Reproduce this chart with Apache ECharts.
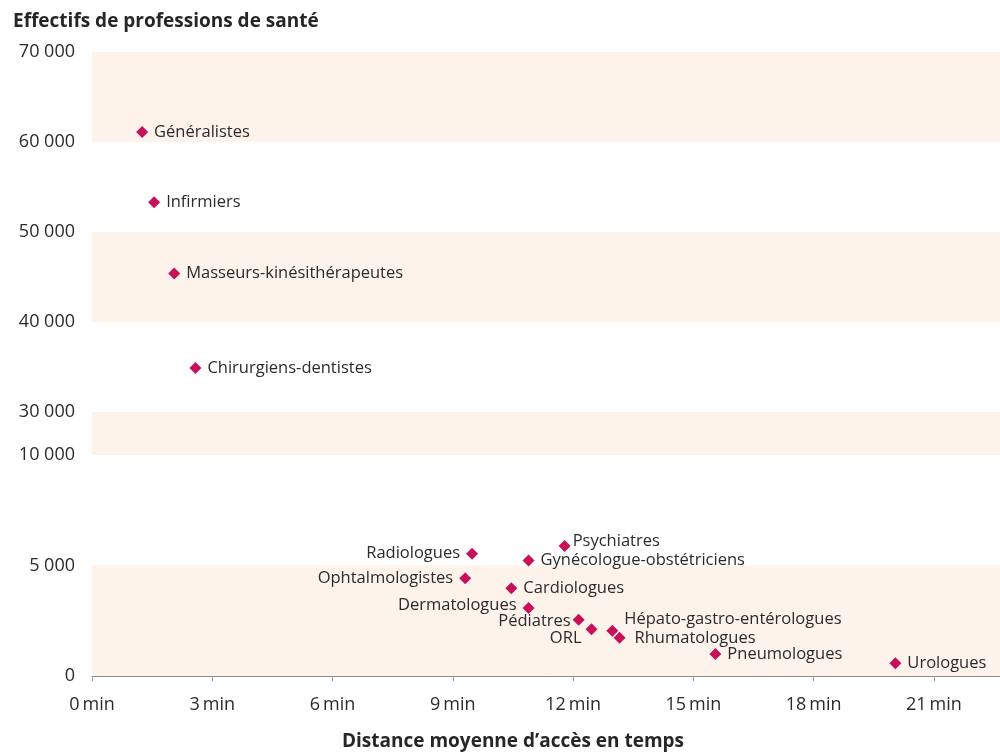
<!DOCTYPE html>
<html>
<head>
<meta charset="utf-8">
<script src="https://cdn.jsdelivr.net/npm/echarts@6/dist/echarts.min.js"></script>
<style>
  html, body { margin: 0; padding: 0; background: #fff; }
  #chart { width: 1000px; height: 753px; }
</style>
</head>
<body>
<div id="chart"></div>
<script>
// valeurs
const professions = [
  'Généralistes', 'Infirmiers', 'Masseurs-kinésithérapeutes', 'Chirurgiens-dentistes',
  'Radiologues', 'Ophtalmologistes', 'Psychiatres', 'Gynécologue-obstétriciens',
  'Cardiologues', 'Dermatologues', 'Pédiatres', 'ORL',
  'Hépato-gastro-entérologues', 'Rhumatologues', 'Pneumologues', 'Urologues'
]
const distanceMin = [
  1.25, 1.55, 2.05, 2.58,
  9.48, 9.31, 11.79, 10.89,
  10.46, 10.89, 12.14, 12.46,
  12.98, 13.16, 15.55, 20.04
]
const effectifs = [
  61100, 53300, 45400, 34900,
  5530, 4420, 5880, 5230,
  3970, 3080, 2550, 2120,
  2050, 1730, 990, 580
]
const xTicks = [0, 3, 6, 9, 12, 15, 18, 21]
const upperTicks = [30000, 40000, 50000, 60000, 70000]
const lowerTicks = [0, 5000, 10000]

const SHADE = '#fdf3eb'
const CLEAR = 'rgba(255,255,255,0)'
const MARK = '#c8105a'
const TEXT = '#2b2b2b'
const FONT = 'Open Sans'

// placement des étiquettes qui ne sont pas simplement à droite du point
const labelPlacement = {
  'Radiologues': { position: 'left' },
  'Ophtalmologistes': { position: 'left' },
  'Dermatologues': { position: 'left', dy: -3 },
  'Pédiatres': { position: 'left', dx: 4, dy: 2 },
  'ORL': { position: 'left', dx: 2, dy: 9 },
  'Psychiatres': { position: 'right', dx: -4, dy: -5 },
  'Hépato-gastro-entérologues': { position: 'right', dy: -11 },
  'Rhumatologues': { position: 'right', dx: 3, dy: 1 }
}

const fmtNumber = v => String(v).replace(/\B(?=(\d{3})+(?!\d))/g, ' ')

function points(filter) {
  return professions
    .map((name, i) => ({ name, value: [distanceMin[i], effectifs[i]] }))
    .filter(p => filter(p.value[1]))
    .map(p => {
      const lp = labelPlacement[p.name]
      if (lp) p.label = { position: lp.position }
      return p
    })
}

// décalages fins des étiquettes, par nom
function shiftLabel(data) {
  return params => {
    const lp = labelPlacement[data[params.dataIndex].name]
    if (!lp) return {}
    return { dx: lp.dx || 0, dy: lp.dy || 0 }
  }
}

const xMax = 22.65
const grids = [
  { left: 92, right: 0, top: 52, height: 360, outerBoundsMode: 'none' },   // 30 000 – 70 000
  { left: 92, right: 0, top: 412, height: 43, outerBoundsMode: 'none' },   // rupture d'échelle
  { left: 92, right: 0, top: 455, height: 221, outerBoundsMode: 'none' }   // 0 – 10 000
]

const hiddenX = idx => ({
  type: 'value', gridIndex: idx, min: 0, max: xMax, show: false
})

const baseLabel = {
  show: true,
  position: 'right',
  distance: 6,
  formatter: '{b}',
  color: TEXT,
  fontFamily: FONT,
  fontSize: 16.5
}

const boldText = { fontFamily: FONT, fontSize: 19, fontWeight: 'bold', color: '#262626' }

const upperData = points(v => v >= upperTicks[0])
const lowerData = points(v => v <= lowerTicks[lowerTicks.length - 1])

const chart = echarts.init(document.getElementById('chart'))
chart.setOption({
  animation: false,
  backgroundColor: '#fff',
  title: {
    text: 'Effectifs de professions de santé',
    left: 8,
    top: 7,
    textStyle: boldText
  },
  grid: grids,
  xAxis: [
    hiddenX(0),
    hiddenX(1),
    {
      type: 'value',
      gridIndex: 2,
      min: 0,
      max: xMax,
      name: 'Distance moyenne d’accès en temps',
      nameLocation: 'middle',
      nameGap: 56,
      nameTextStyle: Object.assign({ padding: [0, 66, 0, 0] }, boldText),
      axisLine: { show: true, lineStyle: { color: '#8c8c8c', width: 1 } },
      axisTick: { show: true, length: 5, customValues: xTicks, lineStyle: { color: '#9a9a9a' } },
      axisLabel: {
        customValues: xTicks,
        margin: 20,
        color: TEXT,
        fontFamily: FONT,
        fontSize: 18,
        formatter: v => v + '\u2009min'
      },
      splitLine: { show: false }
    }
  ],
  yAxis: [
    {
      type: 'value',
      gridIndex: 0,
      min: upperTicks[0],
      max: upperTicks[upperTicks.length - 1],
      interval: 10000,
      axisLine: { show: false },
      axisTick: { show: false },
      axisLabel: { margin: 17, color: TEXT, fontFamily: FONT, fontSize: 18, formatter: fmtNumber },
      splitLine: { show: false },
      splitArea: { show: true, areaStyle: { color: [CLEAR, SHADE] } }
    },
    {
      type: 'value',
      gridIndex: 1,
      min: 0,
      max: 1,
      interval: 1,
      axisLine: { show: false },
      axisTick: { show: false },
      axisLabel: { show: false },
      splitLine: { show: false },
      splitArea: { show: true, areaStyle: { color: [SHADE] } }
    },
    {
      type: 'value',
      gridIndex: 2,
      min: lowerTicks[0],
      max: lowerTicks[lowerTicks.length - 1],
      interval: 5000,
      axisLine: { show: false },
      axisTick: { show: false },
      axisLabel: { margin: 17, color: TEXT, fontFamily: FONT, fontSize: 18, formatter: fmtNumber },
      splitLine: { show: false },
      splitArea: { show: true, areaStyle: { color: [SHADE, CLEAR] } }
    }
  ],
  series: [
    {
      type: 'scatter',
      xAxisIndex: 0,
      yAxisIndex: 0,
      symbol: 'diamond',
      symbolSize: 12,
      itemStyle: { color: MARK, opacity: 1 },
      label: baseLabel,
      data: upperData
    },
    {
      type: 'scatter',
      xAxisIndex: 2,
      yAxisIndex: 2,
      symbol: 'diamond',
      symbolSize: 12,
      itemStyle: { color: MARK, opacity: 1 },
      label: baseLabel,
      labelLayout: shiftLabel(lowerData),
      data: lowerData
    }
  ]
})
</script>
</body>
</html>
